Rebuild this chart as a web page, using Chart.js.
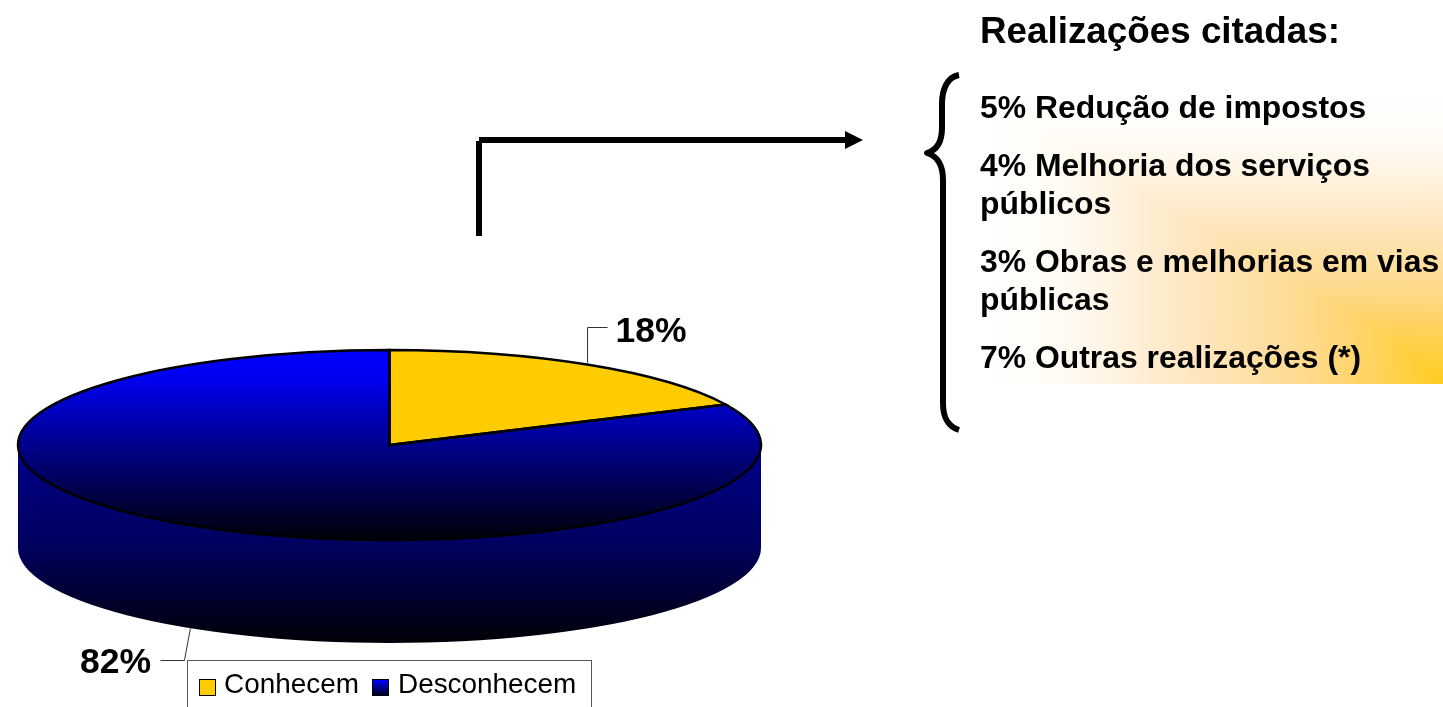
<!DOCTYPE html>
<html>
<head>
<meta charset="utf-8">
<title>Realizações citadas</title>
<script src="https://cdn.jsdelivr.net/npm/chart.js@4"></script>
<style>
  html, body { margin: 0; padding: 0; background: #fff; overflow: hidden; }
  body { width: 1443px; height: 707px; position: relative; font-family: "Liberation Sans", Arial, sans-serif; color: #000; }
  #panel {
    position: absolute; left: 975px; top: 85px; width: 468px; height: 299px;
    background-image:
      linear-gradient(to right, #fff 0%, #fffdf9 14%, #fff5e6 27%, #fee6bf 47%, #fdd98a 72%, #fed258 87%, #ffcc1f 100%),
      linear-gradient(to bottom, #fff 0%, #fffdf9 15%, #fff5e6 28%, #fee6bf 46%, #fdd98a 69%, #fed258 82%, #ffcc1f 100%);
    background-blend-mode: lighten;
  }
  canvas#pie { position: absolute; left: 0; top: 0; }
  #shapes { position: absolute; left: 0; top: 0; }
  .txt { position: absolute; left: 980px; font-weight: bold; white-space: nowrap; }
  #title { top: 10px; font-size: 36.8px; line-height: 42px; }
  .item { font-size: 31.9px; line-height: 38px; }
  #legend {
    position: absolute; left: 187px; top: 660px; width: 405px; height: 60px;
    border: 1px solid #555; box-sizing: border-box; background: #fff;
    font-size: 27.9px; line-height: 46px;
  }
  #legend span.key { position: absolute; top: 18px; width: 15px; height: 15px; border: 1px solid #000; }
  #legend span.lab { position: absolute; top: 0; white-space: nowrap; }
</style>
</head>
<body>
<div id="panel"></div>
<canvas id="pie" width="1443" height="707"></canvas>
<svg id="shapes" width="1443" height="707">
  <path d="M479 236 V141 M479 140 H846" fill="none" stroke="#000" stroke-width="6"/>
  <path d="M845 131 L863 140 L845 149 Z" fill="#000"/>
  <path d="M959 75 C948 77 942 88 942 104 V128 C942 141 937 150 927 153 C937 156 943 165 943 180 V403 C943 417 947 426 959 430" fill="none" stroke="#000" stroke-width="6" stroke-linejoin="round"/>
</svg>
<div class="txt" id="title"></div>
<div id="list"></div>
<div id="legend"></div>

<script>
var titleText = 'Realizações citadas:';
var listLines = ['5% Redução de impostos', '4% Melhoria dos serviços', 'públicos',
  '3% Obras e melhorias em vias', 'públicas', '7% Outras realizações (*)'];
var listTops = [88, 146, 184, 242, 280, 338];

var categories = ['Conhecem', 'Desconhecem'];
var values = [18, 82];

// where the flattened disc ends up on the page
var discX = 389.5, discY = 445, discRx = 371.5, discRy = 95, discDepth = 103;

document.getElementById('title').textContent = titleText;
var list = document.getElementById('list');
listLines.forEach(function (line, i) {
  var d = document.createElement('div');
  d.className = 'txt item';
  d.style.top = listTops[i] + 'px';
  d.textContent = line;
  list.appendChild(d);
});

// html legend, chart.js one can't do the box text gap
var legend = document.getElementById('legend');
var keyLeft = [11, 184], labLeft = [36, 210];
var keyFill = ['#ffcc00', 'linear-gradient(#0000ff, #000020)'];
categories.forEach(function (name, i) {
  var k = document.createElement('span');
  k.className = 'key';
  k.style.left = keyLeft[i] + 'px';
  k.style.background = keyFill[i];
  legend.appendChild(k);
  var t = document.createElement('span');
  t.className = 'lab';
  t.style.left = labLeft[i] + 'px';
  t.textContent = name;
  legend.appendChild(t);
});

function topGradient(ctx, arc) {
  var g = ctx.createLinearGradient(0, arc.y - arc.outerRadius, 0, arc.y + arc.outerRadius);
  g.addColorStop(0, '#0000ff');
  g.addColorStop(0.15, '#0000f0');
  g.addColorStop(0.5, '#00008c');
  g.addColorStop(1, '#000008');
  return g;
}

function flatten(ctx, arc) {
  var r = arc.outerRadius;
  ctx.translate(discX, discY);
  ctx.scale(discRx / r, discRy / r);
  ctx.translate(-arc.x, -arc.y);
}

var disc3d = {
  id: 'disc3d',
  beforeDatasetsDraw: function (chart) {
    var ctx = chart.ctx;
    var arc = chart.getDatasetMeta(0).data[0];
    // the wall under the front half
    var g = ctx.createLinearGradient(0, discY, 0, discY + discRy + discDepth);
    g.addColorStop(0, '#00008a');
    g.addColorStop(0.5, '#000060');
    g.addColorStop(1, '#000006');
    ctx.save();
    ctx.beginPath();
    ctx.ellipse(discX, discY, discRx, discRy, 0, Math.PI, 0, true);
    ctx.lineTo(discX + discRx, discY + discDepth);
    ctx.ellipse(discX, discY + discDepth, discRx, discRy, 0, 0, Math.PI, false);
    ctx.closePath();
    ctx.fillStyle = g;
    ctx.fill();
    ctx.restore();
    ctx.save();
    flatten(ctx, arc);
  },
  afterDatasetsDraw: function (chart) {
    var ctx = chart.ctx;
    var meta = chart.getDatasetMeta(0);
    // outlines go on after the scale so the pen stays round
    meta.data.forEach(function (arc) {
      ctx.beginPath();
      ctx.moveTo(arc.x, arc.y);
      ctx.arc(arc.x, arc.y, arc.outerRadius, arc.startAngle, arc.endAngle);
      ctx.closePath();
      var m = ctx.getTransform();
      ctx.setTransform(1, 0, 0, 1, 0, 0);
      ctx.strokeStyle = '#000';
      ctx.lineWidth = 2.5;
      ctx.stroke();
      ctx.setTransform(m);
    });
    ctx.restore();

    // value labels with leader lines, anchored on each slice's middle angle
    ctx.save();
    ctx.font = 'bold 35.5px "Liberation Sans", Arial, sans-serif';
    ctx.textBaseline = 'alphabetic';
    meta.data.forEach(function (arc, i) {
      var mid = (arc.startAngle + arc.endAngle) / 2;
      var ax = discX + discRx * Math.cos(mid);
      var ay = discY + discRy * Math.sin(mid);
      ctx.beginPath();
      ctx.strokeStyle = '#333';
      ctx.lineWidth = 1;
      if (Math.sin(mid) < 0) {
        ctx.moveTo(ax - 1, ay - 2);
        ctx.lineTo(ax - 1, 327.5);
        ctx.lineTo(ax + 19, 327.5);
        ctx.stroke();
        ctx.fillStyle = '#000';
        ctx.fillText(values[i] + '%', ax + 27, 342);
      } else {
        ay += discDepth;
        ctx.moveTo(ax, ay);
        ctx.lineTo(ax - 6, 660.5);
        ctx.lineTo(ax - 30, 660.5);
        ctx.stroke();
        ctx.fillStyle = '#000';
        ctx.fillText(values[i] + '%', 80, 673);
      }
    });
    ctx.restore();
  }
};

var pie = document.getElementById('pie').getContext('2d');
var chart = new Chart(pie, {
  type: 'pie',
  data: {
    labels: categories,
    datasets: [{
      data: values,
      borderWidth: 0,
      backgroundColor: function (c) {
        if (c.dataIndex === 0) return '#ffcc00';
        var arc = c.chart.getDatasetMeta(0).data[1];
        return arc && arc.outerRadius ? topGradient(c.chart.ctx, arc) : '#0000ff';
      }
    }]
  },
  plugins: [disc3d],
  options: {
    responsive: false,
    animation: false,
    events: [],
    plugins: { legend: { display: false }, tooltip: { enabled: false } }
  }
});
chart.update();
</script>
</body>
</html>
